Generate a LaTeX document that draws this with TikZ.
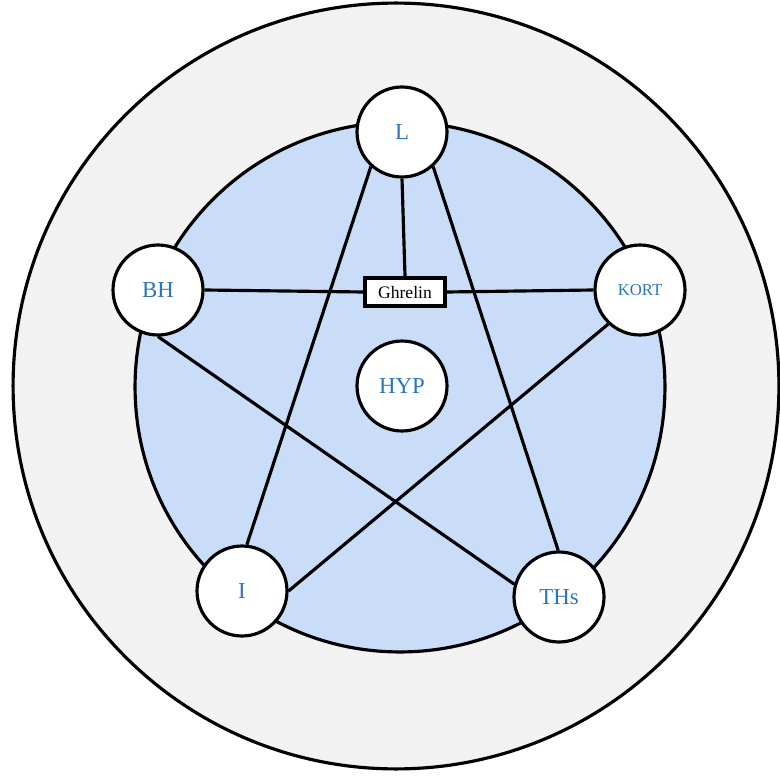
\documentclass[tikz,border=0pt]{standalone}
\usepackage{fontspec}
\setmainfont{Liberation Serif}
\usepackage{tikz}
\definecolor{ringgray}{HTML}{F2F2F2}
\definecolor{coreblue}{HTML}{C9DCF8}
\definecolor{labelblue}{HTML}{2E75B6}
\begin{document}
\begin{tikzpicture}[x=0.02cm,y=-0.02cm,line width=1.8pt,
  hub/.style={circle,draw,fill=white,minimum size=1.8cm,inner sep=0pt,text=labelblue,font=\fontsize{13}{15}\selectfont},
  tag/.style={rectangle,draw,fill=white,line width=2.2pt,minimum width=1.6cm,minimum height=0.56cm,inner sep=1pt,font=\fontsize{10}{12}\selectfont}]
\useasboundingbox (0,0) rectangle (780,776);
\draw[fill=ringgray] (396,386) circle (7.66cm);
\draw[fill=coreblue] (400,387) circle (5.3cm);
\node[hub] (L) at (402,132) {L};
\node[hub] (BH) at (158,290) {BH};
\node[hub,font=\fontsize{9.5}{11}\selectfont] (KORT) at (640,290) {KORT};
\node[hub] (I) at (242,591) {I};
\node[hub] (THs) at (559,597) {THs};
\node[hub] (HYP) at (402,386) {HYP};
\node[tag] (Ghrelin) at (405,292) {Ghrelin};
\draw (L.228) -- (I.84);
\draw (L.312) -- (THs.91);
\draw (L.south) -- (Ghrelin.north);
\draw (BH.270) -- (THs.164);
\draw (KORT.227) -- (I.0);
\draw (BH.east) -- (Ghrelin.west);
\draw (Ghrelin.east) -- (KORT.west);
\end{tikzpicture}
\end{document}
